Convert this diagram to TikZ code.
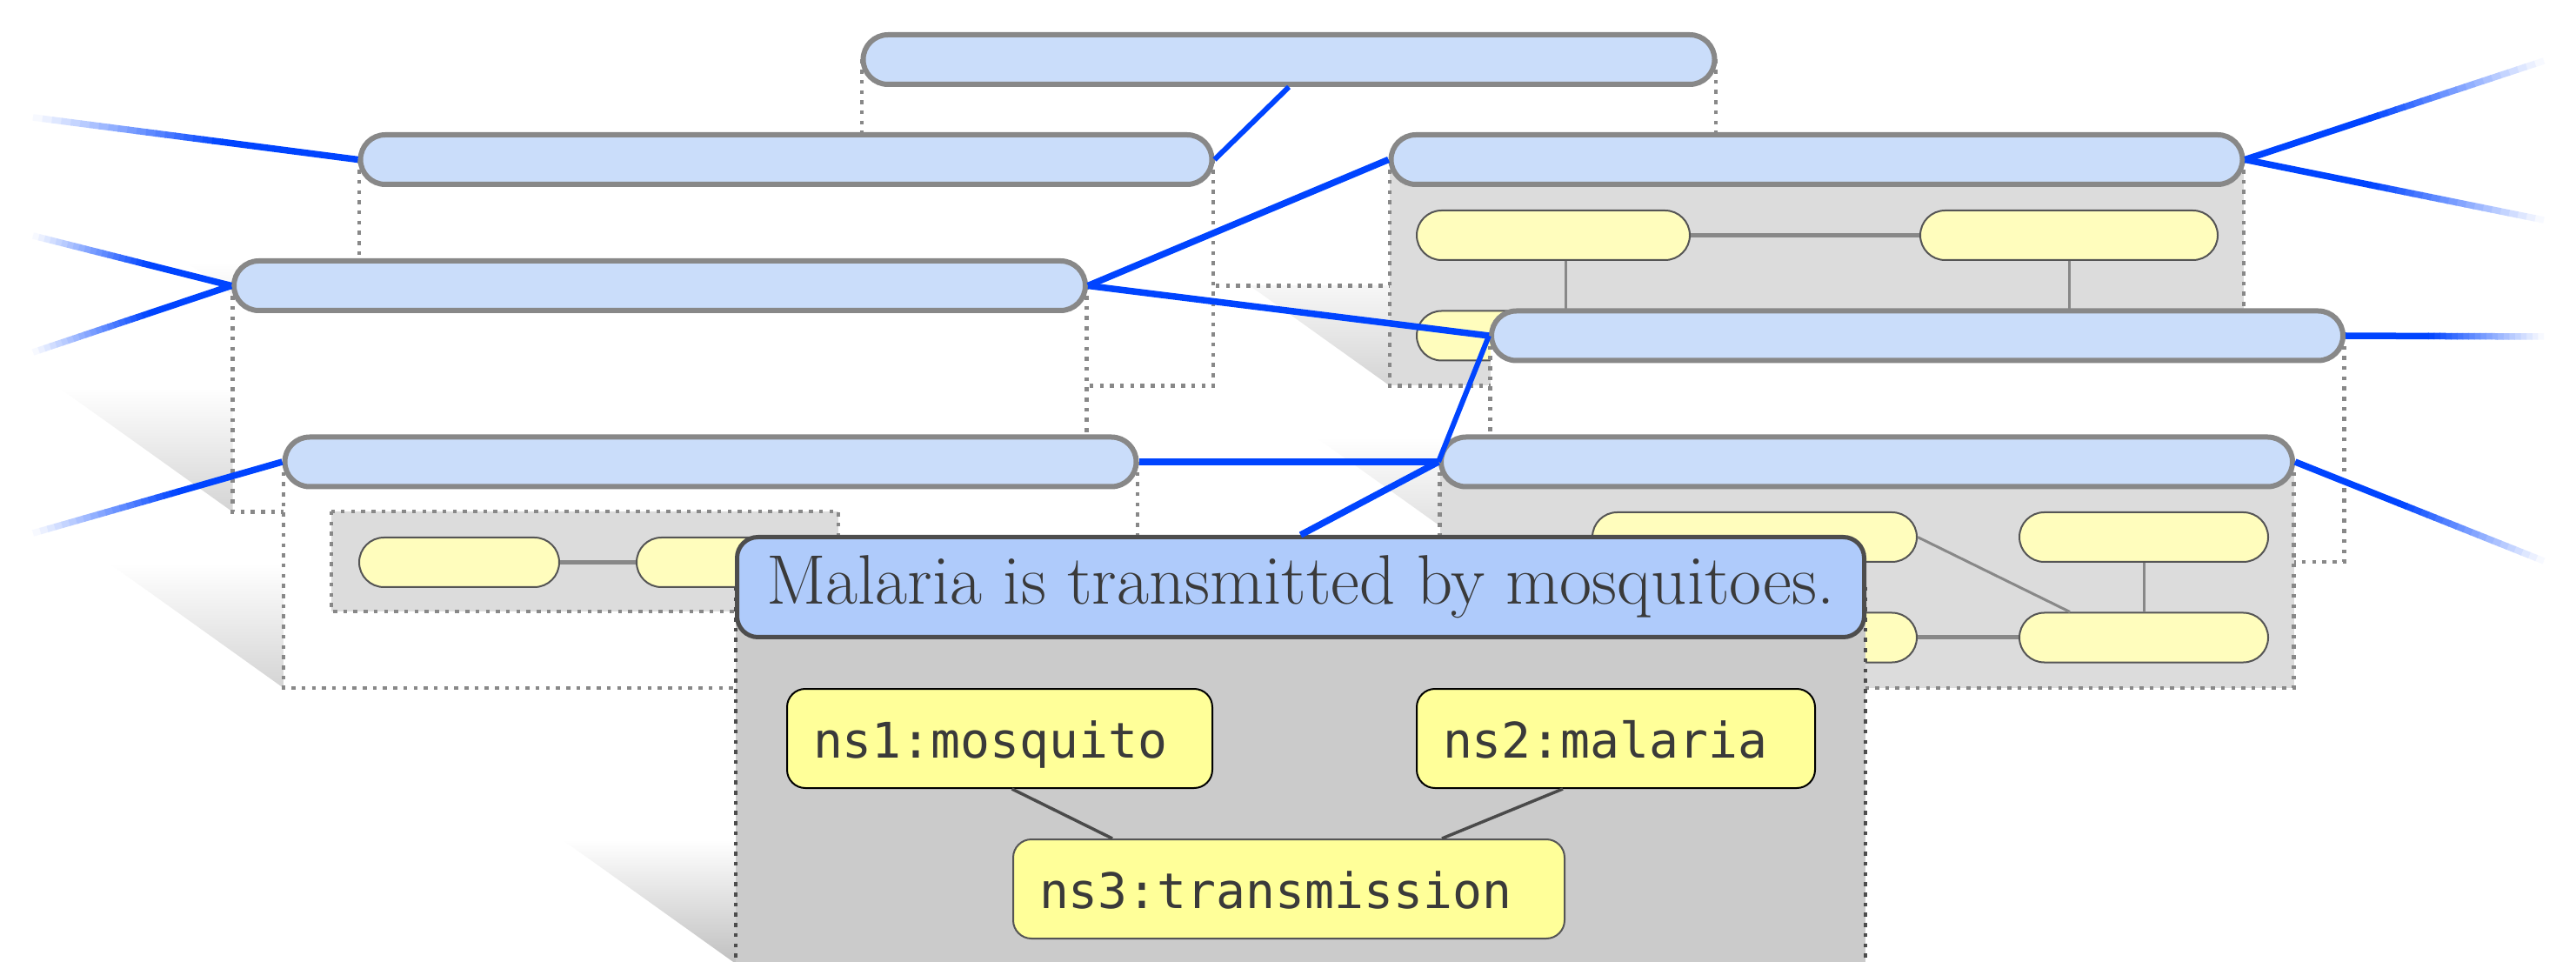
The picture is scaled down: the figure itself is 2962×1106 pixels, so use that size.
\documentclass[tikz,border=0pt]{standalone}
\usepackage{fontspec}
\newfontfamily\nodemono{DejaVu Sans Mono}
\usetikzlibrary{calc}
\definecolor{bgblue}{HTML}{CADDFA}
\definecolor{mainblue}{HTML}{AFCBFB}
\definecolor{pillborder}{HTML}{888888}
\definecolor{mainborder}{HTML}{4D4D4D}
\definecolor{boxgray}{HTML}{DCDCDC}
\definecolor{mainboxgray}{HTML}{CBCBCB}
\definecolor{lightyellow}{HTML}{FFFDBD}
\definecolor{nsyellow}{HTML}{FFFF99}
\definecolor{spillborder}{HTML}{555555}
\definecolor{textgray}{HTML}{3A3A3A}
\definecolor{lineblue}{HTML}{0044FF}
\definecolor{shadowgray}{HTML}{D4D4D4}
\definecolor{mainshadow}{HTML}{C0C0C0}
\definecolor{edgegray}{HTML}{4A4A4A}

\newcommand\sentbox[2]{%
  \fill[#2] ($(#1)+(-491,0)$) rectangle ($(#1)+(491,260)$);
  \draw[boxline] ($(#1)+(-491,0)$) -- ($(#1)+(-491,260)$) -- ($(#1)+(491,260)$) -- ($(#1)+(491,0)$);
}
\newcommand\fadeline[3]{%
  \foreach \k in {0,...,19}{%
    \pgfmathsetmacro\ta{0.58*\k/20}%
    \pgfmathsetmacro\tb{0.58*(\k+1)/20+0.004}%
    \pgfmathtruncatemacro\pc{round(100*(\k+0.5)/20)}%
    \draw[line width=#3, draw=lineblue!\pc!white] ($(#1)!\ta!(#2)$) -- ($(#1)!\tb!(#2)$);
  }%
  \draw[line width=#3, draw=lineblue] ($(#1)!0.58!(#2)$) -- (#2);
}

\begin{document}
\begin{tikzpicture}[x=0.5pt,y=-0.5pt,
  sent/.style={draw=pillborder, line width=3pt, fill=bgblue, rounded corners=14.25pt,
    minimum width=489.5pt, minimum height=28.5pt, inner sep=0pt},
  spill/.style={draw=spillborder, line width=1pt, fill=lightyellow, rounded corners=14.25pt,
    minimum height=28.5pt, inner sep=0pt},
  boxline/.style={draw=pillborder, line width=2.25pt, dash pattern=on 2.25pt off 3.6pt},
  mainboxline/.style={draw=mainborder, line width=2.25pt, dash pattern=on 2.25pt off 3.6pt},
  sedge/.style={draw=pillborder, line width=1.5pt},
  sedgeh/.style={draw=pillborder, line width=2.5pt},
  bthick/.style={draw=lineblue, line width=3.75pt},
  bthin/.style={draw=lineblue, line width=3pt},
  castshadow/.style={top color=white, bottom color=shadowgray},
  mainpill/.style={draw=mainborder, line width=2.5pt, fill=mainblue, rounded corners=12pt,
    minimum width=648pt, minimum height=57.5pt, inner sep=0pt, text=textgray,
    font=\fontsize{40.3}{44}\selectfont},
  nsnode/.style={draw=black, line width=1pt, fill=nsyellow, rounded corners=10.5pt,
    minimum height=57pt, inner xsep=15pt, inner ysep=0pt, align=left,
    text height=22pt, text depth=0pt, text=textgray,
    font=\nodemono\fontsize{28.2}{32}\selectfont},
  nsedge/.style={draw=edgegray, line width=1.75pt}
]
\clip (0,0) rectangle (2962,1106);
\fill[white] (0,0) rectangle (2962,1106);

% centres of the sentence pills
\coordinate (c1) at (1482,68.5);
\coordinate (c2) at (904,183.5);
\coordinate (c3) at (758.5,328.5);
\coordinate (c4) at (817,531);
\coordinate (c5) at (2089,183.5);
\coordinate (c6) at (2204.5,386);
\coordinate (c7) at (2146.5,531);
\coordinate (cm) at (1495.5,675);

% cast shadows
\foreach \c in {c1,c2,c3,c4,c5,c6,c7}
  \shade[castshadow] ($(\c)+(-691,117)$) -- ($(\c)+(-491,117)$) -- ($(\c)+(-491,260)$) -- cycle;
\shade[top color=white, bottom color=mainshadow]
  ($(cm)+(-849.5,290)$) -- ($(cm)+(-649.5,290)$) -- ($(cm)+(-649.5,433)$) -- cycle;

% sentence 1
\sentbox{c1}{white}
\node[sent] (p1) at (c1) {};
% sentence 2
\sentbox{c2}{white}
\node[sent] (p2) at (c2) {};
% sentence 3
\sentbox{c3}{white}
\node[sent] (p3) at (c3) {};
% sentence 4
\sentbox{c4}{white}
\node[sent] (p4) at (c4) {};
\fill[boxgray] (381,588) rectangle (964,703);
\draw[boxline] (381,588) rectangle (964,703);
\node[spill, minimum width=115pt] (a4) at (528,646.5) {};
\node[spill, minimum width=103.5pt] (b4) at (835.5,646.5) {};
\draw[sedgeh] (a4) -- (b4);
% sentence 5
\sentbox{c5}{boxgray}
\node[sent] (p5) at (c5) {};
\node[spill, minimum width=157pt] (e5) at (1786,270.5) {};
\node[spill, minimum width=171pt] (f5) at (2379,270.5) {};
\node[spill, minimum width=171pt] (g5) at (1800,386) {};
\coordinate (h5) at (2379,386);
\draw[sedgeh] (e5) -- (f5);
\draw[sedge] (e5.south -| g5.north) -- (g5.north);
\draw[sedge] (f5) -- (h5);
% sentence 6
\sentbox{c6}{white}
\node[sent] (p6) at (c6) {};
% sentence 7
\sentbox{c7}{boxgray}
\node[sent] (p7) at (c7) {};
\node[spill, minimum width=186.5pt] (a7) at (2017.5,617.5) {};
\node[spill, minimum width=143pt] (b7) at (2465,617.5) {};
\node[spill, minimum width=186.5pt] (cc7) at (2017.5,733) {};
\node[spill, minimum width=143pt] (d7) at (2465,733) {};
\draw[sedge] (a7.east) -- ([xshift=-42.5pt]d7.north);
\draw[sedge] (b7) -- (d7);
\draw[sedgeh] (cc7) -- (d7);

% main sentence
\fill[mainboxgray] ($(cm)+(-649.5,0)$) rectangle ($(cm)+(649.5,440)$);
\draw[mainboxline] ($(cm)+(-649.5,0)$) -- ($(cm)+(-649.5,440)$);
\draw[mainboxline] ($(cm)+(649.5,0)$) -- ($(cm)+(649.5,440)$);
\node[mainpill] (m) at (cm) {Malaria is transmitted by mosquitoes.};
\node[nsnode, text width=214.5pt] (ns1) at (1149.5,849) {ns1:mosquito};
\node[nsnode, text width=199pt] (ns2) at (1858,849) {ns2:malaria};
\node[nsnode, draw=spillborder, text width=287pt] (ns3) at (1482,1022) {ns3:transmission};
\draw[nsedge] ([xshift=7pt]ns1.south) -- ([xshift=57.5pt]ns3.north west);
\draw[nsedge] ([xshift=-30.5pt]ns2.south) -- ([xshift=-71pt]ns3.north east);

% blue connectors
\coordinate (l1) at (38,135);
\coordinate (l3) at (38,271);
\coordinate (l4) at (38,405);
\coordinate (l7) at (38,613);
\coordinate (r11) at (2925,70);
\coordinate (r12) at (2925,253);
\coordinate (r13) at (2925,387);
\coordinate (r14) at (2925,645);
\fadeline{l1}{p2.west}{3.75pt}
\fadeline{l3}{p3.west}{3.75pt}
\fadeline{l4}{p3.west}{3.75pt}
\fadeline{l7}{p4.west}{3.75pt}
\fadeline{r11}{p5.east}{3.75pt}
\fadeline{r12}{p5.east}{3.75pt}
\fadeline{r13}{p6.east}{3.75pt}
\fadeline{r14}{p7.east}{3.75pt}
\draw[bthin] (p1.south) -- (p2.east);
\draw[bthick] (p3.east) -- (p5.west);
\draw[bthick] (p3.east) -- (p6.west);
\draw[bthick] (p4.east) -- (p7.west);
\draw[bthin] (p6.west) -- (p7.west);
\draw[bthick] (p7.west) -- (m.north);
\end{tikzpicture}
\end{document}
